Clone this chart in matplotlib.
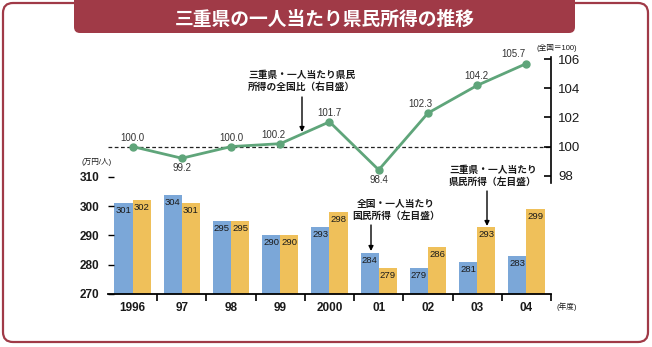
import matplotlib
matplotlib.use('Agg')
import matplotlib.pyplot as plt
from matplotlib.patches import FancyBboxPatch
import numpy as np

plt.rcParams['font.family'] = ['Liberation Sans', 'Noto Sans CJK JP', 'DejaVu Sans']

# data
years = ['1996', '97', '98', '99', '2000', '01', '02', '03', '04']
national = [301, 304, 295, 290, 293, 284, 279, 281, 283]   # 全国・一人当たり国民所得
mie = [302, 301, 295, 290, 298, 279, 286, 293, 299]        # 三重県・一人当たり県民所得
ratio = [100.0, 99.2, 100.0, 100.2, 101.7, 98.4, 102.3, 104.2, 105.7]
# label offsets (pixels) for the ratio values
ratio_off = [(0, 9), (0, -10), (0, 9), (-7, 9), (0, 9), (0, -10), (-8, 9), (-1, 9), (-13, 10)]

W, H = 652, 347
blue = '#7ba7d8'
yellow = '#efc05a'
green = '#5fa57a'
red = '#a03a47'
dark = '#1a1a1a'

fig = plt.figure(figsize=(W / 100, H / 100), dpi=100)


def box(x0, y0, x1, y1):
    # pixel box (top-left origin) -> figure fraction rect
    return [x0 / W, 1 - y1 / H, (x1 - x0) / W, (y1 - y0) / H]


# background frame + title banner
bg = fig.add_axes([0, 0, 1, 1], zorder=0)
bg.set_xlim(0, W)
bg.set_ylim(H, 0)
bg.axis('off')
bg.add_patch(FancyBboxPatch((3, 3), 645, 339, boxstyle='round,pad=0,rounding_size=10',
                            fc='white', ec=red, lw=1.6))
bg.add_patch(FancyBboxPatch((74, -20), 501, 53, boxstyle='round,pad=0,rounding_size=6',
                            fc=red, ec='none'))
bg.text(325, 19, '三重県の一人当たり県民所得の推移', color='white', fontsize=13.5,
        fontweight='bold', ha='center', va='center', family=['Noto Sans CJK JP'])

x = np.arange(len(years))

# bars (left scale)
ax = fig.add_axes(box(108, 177, 551, 294), zorder=2)
ax.patch.set_alpha(0)
bw = 0.37
b1 = ax.bar(x - bw / 2, np.array(national) - 270, bw, bottom=270, color=blue)
b2 = ax.bar(x + bw / 2, np.array(mie) - 270, bw, bottom=270, color=yellow)
for bars, vals in ((b1, national), (b2, mie)):
    for r, v in zip(bars, vals):
        ax.annotate(str(v), (r.get_x() + r.get_width() / 2, v), xytext=(0, -3),
                    textcoords='offset pixels', ha='center', va='top', fontsize=6.8, color=dark)
ax.set_xlim(-0.5, len(years) - 0.5)
ax.set_ylim(270, 310)
ax.set_yticks([270, 280, 290, 300, 310])
ax.set_xticks(x)
ax.set_xticklabels(years)
ax.set_xticks(np.arange(0.5, len(years)), minor=True)
for s in ('top', 'right', 'left'):
    ax.spines[s].set_visible(False)
ax.spines['bottom'].set_linewidth(1.3)
ax.tick_params(axis='x', which='major', length=0, pad=6, labelsize=8.5, labelcolor=dark)
ax.tick_params(axis='x', which='minor', length=5, width=1.2, direction='out')
ax.tick_params(axis='y', length=4, width=1, direction='in', pad=6, labelsize=8.5, labelcolor=dark)
for t in ax.get_xticklabels() + ax.get_yticklabels():
    t.set_fontweight('bold')

# ratio line (right scale)
ax2 = fig.add_axes(box(108, 57, 551, 183), zorder=3)
ax2.patch.set_alpha(0)
ax2.set_xlim(-0.5, len(years) - 0.5)
ax2.set_ylim(97.5, 106.15)
ax2.axhline(100, color='#222222', lw=0.9, ls=(0, (3, 2)), zorder=1)
ax2.plot(x, ratio, color=green, lw=2, marker='o', ms=5, zorder=3)
for xi, v, (dx, dy) in zip(x, ratio, ratio_off):
    ax2.annotate(f'{v:.1f}', (xi, v), xytext=(dx, dy), textcoords='offset pixels',
                 ha='center', va='center', fontsize=7, color='#333333')
for s in ('top', 'left', 'bottom'):
    ax2.spines[s].set_visible(False)
ax2.spines['right'].set_linewidth(1.2)
ax2.set_xticks([])
ax2.yaxis.tick_right()
ax2.set_yticks([98, 100, 102, 104, 106])
ax2.tick_params(axis='y', direction='in', length=5, width=1.2, pad=5, labelsize=9.5, labelcolor=dark)

# unit labels
bg.text(97, 162, '(万円/人)', fontsize=5.5, ha='center', va='center', color=dark)
bg.text(557, 48, '(全国＝100)', fontsize=5.5, ha='center', va='center', color=dark)
bg.text(567, 307, '(年度)', fontsize=5.5, ha='center', va='center', color=dark)

# callouts
jp = ['Noto Sans CJK JP']
arrow = dict(arrowstyle='-|>', color='black', lw=1, mutation_scale=7, shrinkA=0, shrinkB=0)
bg.text(302, 81, '三重県・一人当たり県民\n所得の全国比（右目盛）', fontsize=7, fontweight='bold',
        ha='center', va='center', linespacing=1.15, family=jp, color=dark)
bg.annotate('', xy=(302, 132), xytext=(302, 97), arrowprops=arrow)
bg.text(396, 210, '全国・一人当たり\n国民所得（左目盛）', fontsize=7, fontweight='bold',
        ha='center', va='center', linespacing=1.15, family=jp, color=dark)
bg.annotate('', xy=(371, 251), xytext=(371, 225), arrowprops=arrow)
bg.text(493, 176, '三重県・一人当たり\n県民所得（左目盛）', fontsize=7, fontweight='bold',
        ha='center', va='center', linespacing=1.15, family=jp, color=dark)
bg.annotate('', xy=(487, 226), xytext=(487, 191), arrowprops=arrow)

fig.savefig('out.png', dpi=100)
